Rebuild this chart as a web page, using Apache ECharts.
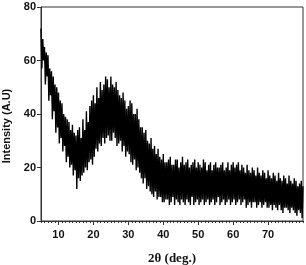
<!DOCTYPE html>
<html><head><meta charset="utf-8">
<script src="https://cdn.jsdelivr.net/npm/echarts@6/dist/echarts.min.js"></script>
<style>html,body{margin:0;padding:0;background:#fff}#c{width:306px;height:265px}</style>
</head><body><div id="c"></div>
<script>
// 2θ sample grid: start and step (degrees)
const twoThetaStart = 5;
const twoThetaStep = 0.25;
const intensity = [
72,57,68,60, 65,51,63,54, 62,45,57,47, 56,38,54,41, 51,33,50,35,
48,29,45,31, 44,26,40,28, 39,22,38,24, 37,20,34,21, 36,17,33,19,
32,12,34,16, 35,15,31,17, 38,18,34,20, 41,19,37,22, 43,23,45,21,
47,24,44,27, 50,26,46,29, 52,28,49,31, 51,29,54,31, 53,32,50,30,
54,30,51,33, 50,31,52,28, 49,29,47,30, 46,26,48,28, 45,24,42,26,
43,25,45,22, 44,21,40,23, 40,19,42,20, 38,18,35,16, 35,14,33,16,
34,12,30,13, 29,11,31,10, 27,9,28,11, 25,8,27,9, 24,9,23,7,
25,7,22,8, 22,8,23,6, 24,7,21,9, 21,6,23,8, 23,7,20,6,
22,8,24,7, 21,6,22,8, 23,7,20,6, 21,9,22,6, 23,7,20,8,
22,6,21,7, 20,8,23,6, 22,7,19,8, 21,6,22,7, 19,8,21,6,
22,7,20,9, 20,6,21,7, 22,8,19,6, 20,7,22,8, 19,6,21,7,
22,8,20,6, 21,7,22,8, 19,6,21,7, 20,8,18,5, 21,6,19,7,
18,5,20,7, 19,7,17,5, 20,6,18,7, 17,5,19,6, 18,7,16,5,
19,5,17,6, 16,4,18,6, 17,5,15,4, 18,6,16,4, 15,3,17,5,
16,5,14,4, 17,3,15,5, 14,4,16,3, 15,2,13,4, 14,3,15,1,
13
];
const xTickValues = [10, 20, 30, 40, 50, 60, 70];
const xTitle = '2θ (deg.)';
const yTitle = 'Intensity (A.U)';

const points = intensity.map((v, i) => [twoThetaStart + i * twoThetaStep, v]);
const axisColor = '#333';
const labelFont = {fontFamily: 'Liberation Sans', fontWeight: 'bold', fontSize: 11, color: '#111'};

const chart = echarts.init(document.getElementById('c'), null, {renderer: 'canvas'});
chart.setOption({
  animation: false,
  grid: {left: 41, right: 3, top: 7, bottom: 44, show: true, borderColor: axisColor, borderWidth: 1, backgroundColor: 'transparent', containLabel: false, outerBoundsMode: 'none'},
  xAxis: [{
    type: 'value', min: 5, max: 80, interval: 10,
    axisLine: {show: true, lineStyle: {color: axisColor, width: 1}},
    axisTick: {show: true, length: 4, inside: false, customValues: xTickValues, lineStyle: {color: axisColor}},
    axisLabel: {customValues: xTickValues, margin: 8, ...labelFont},
    splitLine: {show: false},
    name: xTitle, nameLocation: 'middle', nameGap: 31,
    nameTextStyle: {fontFamily: 'Liberation Serif', fontWeight: 'bold', fontSize: 13, color: '#111'}
  }, {
    type: 'value', min: 5, max: 80, interval: 1, position: 'bottom',
    axisLine: {show: false}, axisLabel: {show: false}, splitLine: {show: false},
    axisTick: {show: true, length: 2, lineStyle: {color: axisColor}}
  }],
  yAxis: {
    type: 'value', min: 0, max: 80, interval: 20,
    axisLine: {show: true, lineStyle: {color: axisColor, width: 1}},
    axisTick: {show: true, length: 4, lineStyle: {color: axisColor}},
    axisLabel: {margin: 5, ...labelFont},
    splitLine: {show: false},
    name: yTitle, nameLocation: 'middle', nameGap: 27, nameRotate: 90,
    nameTextStyle: {fontFamily: 'Liberation Sans', fontWeight: 'bold', fontSize: 11, color: '#111', padding: [0, 24, 0, 0]}
  },
  series: [{
    type: 'line', data: points, showSymbol: false, symbol: 'none',
    lineStyle: {color: '#000', width: 1.4}, xAxisIndex: 0, yAxisIndex: 0
  }]
});
</script></body></html>
